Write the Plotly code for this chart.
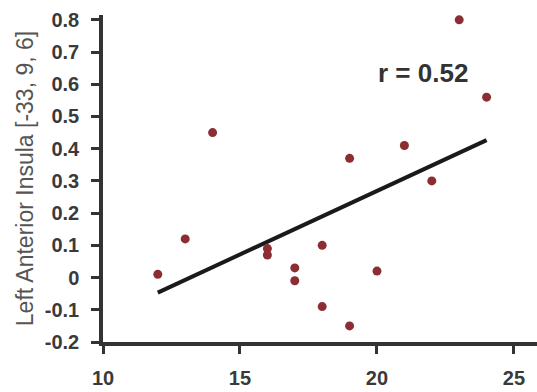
import numpy as np
import plotly.graph_objects as go

# Data
score = [12, 13, 14, 16, 16, 17, 17, 18, 18, 19, 19, 20, 21, 22, 23, 24]
insula = [0.01, 0.12, 0.45, 0.09, 0.07, 0.03, -0.01, 0.10, -0.09, 0.37, -0.15, 0.02, 0.41, 0.30, 0.80, 0.56]
x_ticks = [10, 15, 20, 25]
y_ticks = [-0.2, -0.1, 0, 0.1, 0.2, 0.3, 0.4, 0.5, 0.6, 0.7, 0.8]
y_ticklabels = ["-0.2", "-0.1", "0", "0.1", "0.2", "0.3", "0.4", "0.5", "0.6", "0.7", "0.8"]
y_title = "Left Anterior Insula [-33, 9, 6]"

xa = np.array(score, dtype=float)
ya = np.array(insula, dtype=float)
slope, intercept = np.polyfit(xa, ya, 1)
r = np.corrcoef(xa, ya)[0, 1]
fit_x = [xa.min(), xa.max()]
fit_y = [slope * v + intercept for v in fit_x]

fig = go.Figure()
fig.add_trace(go.Scatter(x=fit_x, y=fit_y, mode="lines",
                         line=dict(color="#1a1a1a", width=4), hoverinfo="skip"))
fig.add_trace(go.Scatter(x=score, y=insula, mode="markers",
                         marker=dict(color="#8c2d33", size=9, line=dict(width=0))))

fig.add_annotation(x=21.68, y=0.635, text=f"r = {r:.2f}", showarrow=False,
                   xanchor="center", yanchor="middle",
                   font=dict(family="Liberation Sans, Arial", size=26, color="#333333", weight="bold"))

axis_font = dict(family="Liberation Sans, Arial", size=20, color="#3a3a3a", weight="bold")
fig.update_layout(
    width=537, height=392,
    margin=dict(l=103, r=0, t=15, b=50),
    paper_bgcolor="white", plot_bgcolor="white",
    showlegend=False,
    xaxis=dict(range=[10, 25.84], tickvals=x_ticks, showgrid=False, zeroline=False,
               automargin=False,
               showline=True, linecolor="#333333", linewidth=3.5,
               ticks="outside", ticklen=8, tickwidth=3, tickcolor="#333333",
               tickfont=axis_font, ticklabelstandoff=7),
    yaxis=dict(range=[-0.2, 0.815], tickvals=y_ticks, ticktext=y_ticklabels,
               showgrid=False, zeroline=False, automargin=False,
               showline=True, linecolor="#333333", linewidth=3.5,
               ticks="outside", ticklen=8, tickwidth=3, tickcolor="#333333",
               tickfont=axis_font, ticklabelstandoff=8,
               title=dict(text=y_title, standoff=6,
                          font=dict(family="Liberation Sans, Arial", size=23, color="#555555"))),
)

fig.write_html("out.html", config={"displayModeBar": False},
               post_script="document.body.style.margin='0';document.body.style.overflow='hidden';")
